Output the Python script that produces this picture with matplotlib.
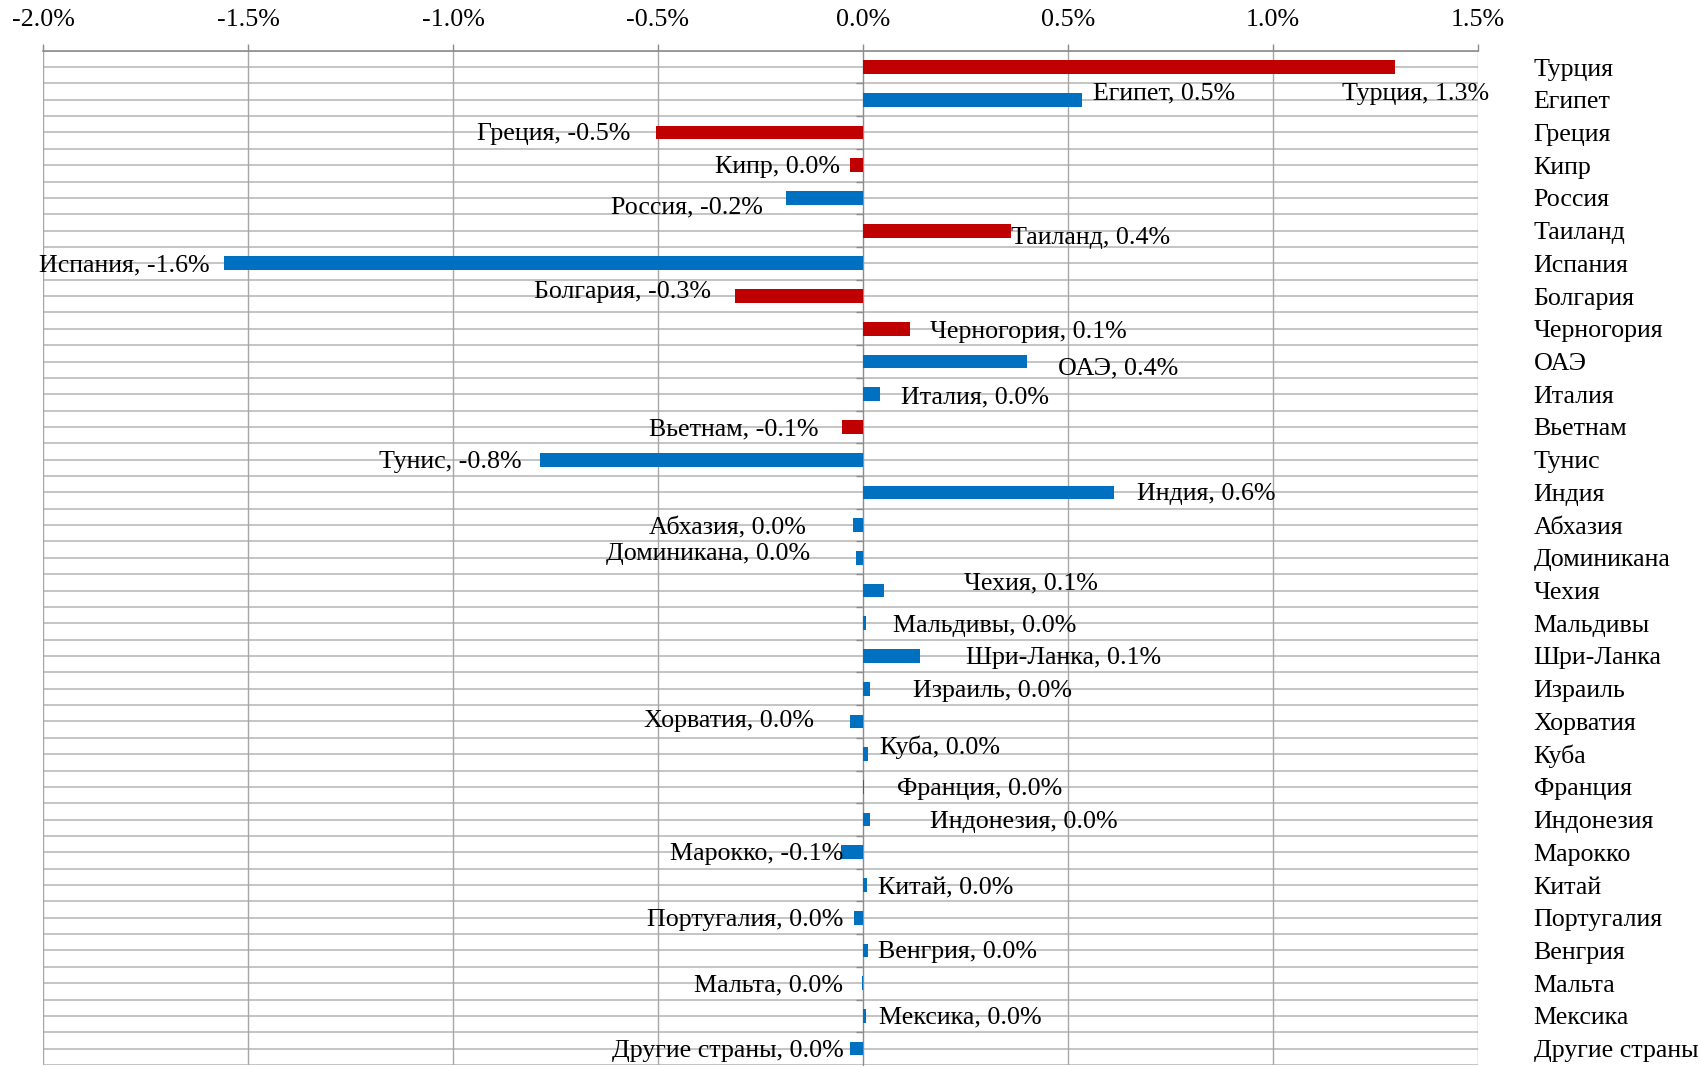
import numpy as np
import matplotlib.pyplot as plt
from matplotlib.ticker import FuncFormatter

# --- data (percentage points) ---
countries = [
    "Турция", "Египет", "Греция", "Кипр", "Россия", "Таиланд", "Испания",
    "Болгария", "Черногория", "ОАЭ", "Италия", "Вьетнам", "Тунис", "Индия",
    "Абхазия", "Доминикана", "Чехия", "Мальдивы", "Шри-Ланка", "Израиль",
    "Хорватия", "Куба", "Франция", "Индонезия", "Марокко", "Китай",
    "Португалия", "Венгрия", "Мальта", "Мексика", "Другие страны",
]
change = [
    1.297, 0.534, -0.505, -0.032, -0.188, 0.362, -1.559,
    -0.312, 0.114, 0.399, 0.042, -0.052, -0.787, 0.613,
    -0.024, -0.016, 0.052, 0.008, 0.140, 0.018,
    -0.032, 0.013, 0.003, 0.016, -0.053, 0.010,
    -0.021, 0.013, -0.003, 0.008, -0.032,
]
highlight = [
    True, False, True, True, False, True, False,
    True, True, False, False, True, False, False,
    False, False, False, False, False, False,
    False, False, False, False, False, False,
    False, False, False, False, False,
]

# label placement: (x anchor in %, alignment, vertical shift in rows)
label_pos = [
    (1.527, "right", 0.76), (0.560, "left", -0.24), (-0.568, "right", 0.0),
    (-0.055, "right", 0.0), (-0.243, "right", 0.24), (0.362, "left", 0.17),
    (-1.593, "right", 0.0), (-0.370, "right", -0.18), (0.164, "left", 0.05),
    (0.476, "left", 0.14), (0.092, "left", 0.03), (-0.108, "right", 0.03),
    (-0.832, "right", 0.0), (0.668, "left", 0.0), (-0.140, "right", 0.04),
    (-0.129, "right", -0.17), (0.246, "left", -0.27), (0.074, "left", 0.02),
    (0.251, "left", 0.0), (0.122, "left", 0.0), (-0.119, "right", -0.07),
    (0.042, "left", -0.27), (0.082, "left", 0.02), (0.164, "left", 0.0),
    (-0.048, "right", 0.0), (0.037, "left", 0.03), (-0.048, "right", 0.0),
    (0.037, "left", 0.0), (-0.048, "right", 0.0), (0.040, "left", 0.0),
    (-0.048, "right", 0.0),
]

RED = "#C00000"
BLUE = "#0070C0"
FONT = "Liberation Serif"
FS = 18.7

plt.rcParams["font.family"] = [FONT, "DejaVu Serif"]


def fmt_pct(v):
    s = f"{v:.1f}"
    if s == "-0.0":
        s = "0.0"
    return s + "%"


fig = plt.figure(figsize=(17, 10.67), dpi=100)
ax = fig.add_axes([0.0253, 0.0019, 0.8441, 0.9506])

n = len(countries)
y = np.arange(n)
colors = [RED if h else BLUE for h in highlight]

# horizontal grid: every half row
ax.hlines(np.arange(-0.5, n, 0.5), -2.0, 1.5, color="#BFBFBF", lw=1.3, zorder=0)

ax.barh(y, change, height=0.42, color=colors, zorder=3)

for i, (v, (lx, ha, dy)) in enumerate(zip(change, label_pos)):
    ax.text(lx, i + dy + 0.06, f"{countries[i]}, {fmt_pct(v)}", ha=ha, va="center",
            fontsize=FS, color="black", zorder=4)

ax.set_xlim(-2.0, 1.5)
ax.set_ylim(n - 0.5, -0.5)

# x axis on top
ax.xaxis.tick_top()
ax.set_xticks(np.arange(-2.0, 1.51, 0.5))
ax.xaxis.set_major_formatter(FuncFormatter(lambda v, p: fmt_pct(v)))
ax.tick_params(axis="x", which="major", direction="out", length=5,
               width=1.0, color="#8C8C8C", labelsize=FS, pad=9)
ax.grid(axis="x", color="#A6A6A6", lw=1.0, zorder=1)

# vertical axis through zero with ticks at row boundaries
ax.spines["left"].set_position(("data", 0))
ax.spines["left"].set_color("#8C8C8C")
ax.spines["left"].set_zorder(2)
ax.set_yticks([])
ax.set_yticks(np.arange(0.5, n - 0.5, 1.0), minor=True)
ax.tick_params(axis="y", which="minor", direction="out", length=5,
               width=1.0, color="#8C8C8C", labelleft=False)
ax.spines["top"].set_color("#8C8C8C")
ax.spines["top"].set_linewidth(1.2)
ax.spines["right"].set_visible(False)
ax.spines["bottom"].set_visible(False)

# category names on the right
ax2 = ax.twinx()
ax2.set_ylim(ax.get_ylim())
ax2.set_yticks(y)
ax2.set_yticklabels(countries, fontsize=FS)
ax2.tick_params(axis="y", length=0, pad=40)
for s in ax2.spines.values():
    s.set_visible(False)

fig.savefig("out.png", dpi=100)
